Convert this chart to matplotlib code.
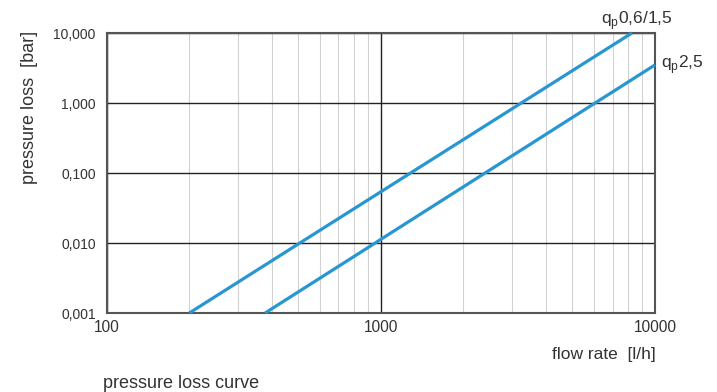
import numpy as np
import matplotlib.pyplot as plt
from matplotlib.ticker import FixedLocator, NullFormatter

plt.rcParams['font.family'] = ['Liberation Sans', 'DejaVu Sans']

# curves (flow rate l/h, pressure loss bar)
flow_06 = [200, 506, 1000, 8240]
loss_06 = [0.001, 0.010, 0.054, 10.0]
flow_25 = [378, 953, 1000, 10000]
loss_25 = [0.001, 0.010, 0.0113, 3.5]

y_ticks = [0.001, 0.01, 0.1, 1, 10]
y_labels = ['0,001', '0,010', '0,100', '1,000', '10,000']
x_ticks = [100, 1000, 10000]
x_labels = ['100', '1000', '10000']

blue = '#2896d2'
txt = '#333333'

fig = plt.figure(figsize=(7.17, 3.92), dpi=100)
ax = fig.add_axes([0.149, 0.2015, 0.7645, 0.7143])

ax.set_xscale('log')
ax.set_yscale('log')
ax.set_xlim(100, 10000)
ax.set_ylim(0.001, 10)

minor_x = [m * d for d in (100, 1000) for m in range(2, 10)]
ax.xaxis.set_minor_locator(FixedLocator(minor_x))
ax.xaxis.set_minor_formatter(NullFormatter())
ax.yaxis.set_minor_locator(FixedLocator([]))
ax.set_xticks(x_ticks)
ax.set_xticklabels(x_labels)
ax.set_yticks(y_ticks)
ax.set_yticklabels(y_labels)

ax.grid(True, which='minor', axis='x', color='#d2d2d2', lw=0.8)
ax.grid(True, which='major', axis='both', color='#222222', lw=1.0)
ax.tick_params(which='both', length=0, colors=txt)
ax.tick_params(axis='x', pad=5, labelsize=11.2)
ax.tick_params(axis='y', pad=8, labelsize=10)
for s in ax.spines.values():
    s.set_color('#555555')
    s.set_linewidth(1.5)

ax.plot(flow_06, loss_06, color=blue, lw=2.3, solid_capstyle='butt', clip_on=False, zorder=3)
ax.plot(flow_25, loss_25, color=blue, lw=2.3, solid_capstyle='butt', clip_on=False, zorder=3)

ax.text(8600, 15.3, r'q$_\mathregular{p}$0,6/1,5', ha='center', va='center', fontsize=12.5, color=txt)
ax.text(10500, 3.5, r'q$_\mathregular{p}$2,5', ha='left', va='center', fontsize=12.5, color=txt)

fig.text(30 / 717, 1 - 107 / 392, 'pressure loss  [bar]', rotation=90, ha='center', va='center',
         fontsize=13, color=txt)
fig.text(0.915, 1 - 355 / 392, 'flow rate  [l/h]', ha='right', va='center', fontsize=12.5, color=txt)
fig.text(0.143, 1 - 383 / 392, 'pressure loss curve', ha='left', va='center', fontsize=13, color=txt)

fig.savefig('out.png', dpi=100)
